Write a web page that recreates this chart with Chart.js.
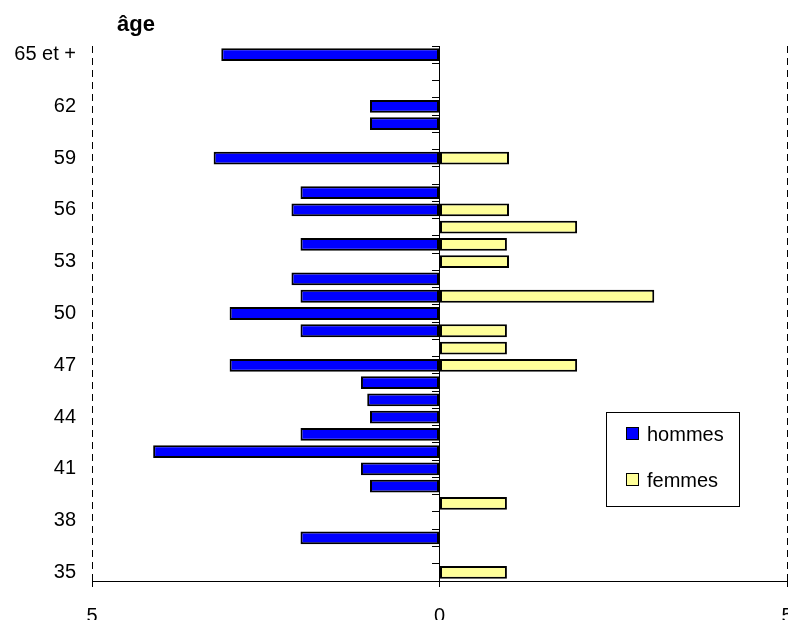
<!DOCTYPE html>
<html lang="fr">
<head>
<meta charset="utf-8">
<title>Pyramide des âges</title>
<script src="https://cdn.jsdelivr.net/npm/chart.js@4/dist/chart.umd.min.js"></script>
<style>
  html, body { margin: 0; padding: 0; overflow: hidden; background: #fff; }
  canvas { display: block; }
</style>
</head>
<body>
<canvas id="pyramide" width="800" height="625"></canvas>
<script>
// tranches d'âge, de bas en haut
const ages = ['35', '36', '37', '38', '39', '40', '41', '42', '43', '44',
              '45', '46', '47', '48', '49', '50', '51', '52', '53', '54',
              '55', '56', '57', '58', '59', '60', '61', '62', '63', '64', '65 et +'];

// hommes à gauche (valeurs négatives), femmes à droite
const hommes = [0, 0, -2, 0, 0, -1, -1.13, -4.12, -2, -1,
                -1.04, -1.13, -3.02, 0, -2, -3.02, -2, -2.13, 0, -2,
                0, -2.13, -2, 0, -3.25, 0, -1, -1, 0, 0, -3.14];
const femmes = [0.97, 0, 0, 0, 0.97, 0, 0, 0, 0, 0,
                0, 0, 1.98, 0.97, 0.97, 0, 3.09, 0, 1, 0.97,
                1.98, 1, 0, 0, 1, 0, 0, 0, 0, 0, 0];

const ticksX = [-5, 0, 5];

const police = '"Liberation Sans", Arial, sans-serif';
Chart.defaults.font.family = police;
Chart.defaults.color = '#000';

// légende encadrée dans la zone du graphique + titre "âge"
const legendeBoite = {
    id: 'legendeBoite',
    afterDraw(chart) {
        const ctx = chart.ctx;
        ctx.save();
        ctx.lineWidth = 1;
        ctx.strokeStyle = '#000';
        ctx.fillStyle = '#fff';
        ctx.fillRect(606.5, 412.5, 133, 94);
        ctx.strokeRect(606.5, 412.5, 133, 94);

        ctx.font = '20px ' + police;
        ctx.textBaseline = 'middle';
        chart.data.datasets.forEach((ds, i) => {
            const y = 434 + i * 46;
            ctx.fillStyle = ds.backgroundColor;
            ctx.fillRect(626.5, y - 6.5, 12, 12);
            ctx.strokeRect(626.5, y - 6.5, 12, 12);
            ctx.fillStyle = '#000';
            ctx.fillText(ds.label, 647, y + 1);
        });

        ctx.font = 'bold 22px ' + police;
        ctx.textBaseline = 'alphabetic';
        ctx.fillText('âge', 117, 31);
        ctx.restore();
    }
};

const pyramide = new Chart(document.querySelector('#pyramide'), {
    type: 'bar',
    data: {
        labels: ages,
        datasets: [{
            label: 'hommes',
            data: hommes,
            backgroundColor: '#0000FF',
            borderColor: '#000',
            borderWidth: 2,
            borderSkipped: false,
            barPercentage: 0.74,
            categoryPercentage: 1
        }, {
            label: 'femmes',
            data: femmes,
            backgroundColor: '#FFFF99',
            borderColor: '#000',
            borderWidth: 2,
            borderSkipped: false,
            barPercentage: 0.74,
            categoryPercentage: 1
        }]
    },
    options: {
        indexAxis: 'y',
        responsive: false,
        animation: false,
        layout: { padding: { top: 46, left: 14, right: 13, bottom: 0 } },
        plugins: {
            legend: { display: false },
            tooltip: { enabled: false }
        },
        scales: {
            x: {
                min: ticksX[0],
                max: ticksX[ticksX.length - 1],
                afterBuildTicks: (scale) => {
                    scale.ticks = ticksX.map(v => ({ value: v }));
                },
                afterFit: (scale) => {
                    scale.height = 44;
                    scale.paddingLeft = 0;
                    scale.paddingRight = 0;
                },
                ticks: {
                    color: '#000',
                    font: { size: 20 },
                    padding: 17,
                    maxRotation: 0,
                    callback: (v) => String(Math.abs(v))
                },
                grid: {
                    color: (c) => (c.tick && c.tick.value === 0) ? 'rgba(0,0,0,0)' : '#000',
                    tickColor: '#000',
                    lineWidth: 1,
                    tickLength: 6
                },
                border: { display: true, color: '#000', width: 1, dash: [7, 5] }
            },
            y: {
                type: 'category',
                reverse: true,
                stacked: true,
                offset: true,
                afterFit: (scale) => { scale.width = 78; },
                grid: { display: false, drawTicks: false },
                border: { display: false },
                ticks: {
                    autoSkip: false,
                    padding: 16,
                    color: '#000',
                    font: { size: 20 },
                    callback: function (v, i) {
                        return i % 3 === 0 ? this.getLabelForValue(v) : '';
                    }
                }
            },
            y2: {
                type: 'category',
                reverse: true,
                offset: true,
                position: { x: 0 },
                afterFit: (scale) => { scale.width = 0; },
                grid: { drawOnChartArea: false, offset: true, tickLength: 7, color: '#000' },
                border: { display: true, color: '#000', width: 1 },
                ticks: { display: false }
            }
        }
    },
    plugins: [legendeBoite]
});
</script>
</body>
</html>
